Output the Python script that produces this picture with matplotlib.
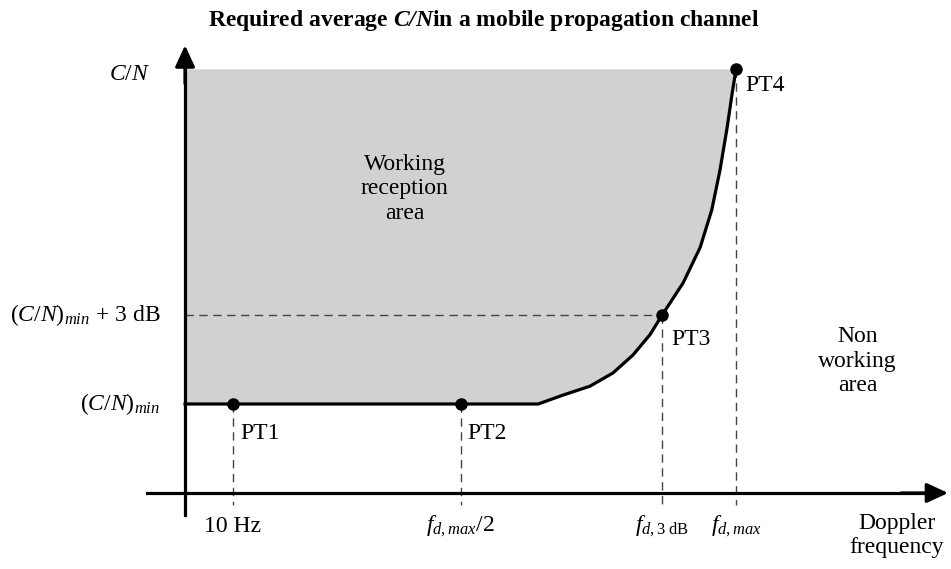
import matplotlib
matplotlib.use('Agg')
import matplotlib.pyplot as plt

# serif fonts for text and math
plt.rcParams['font.family'] = 'Liberation Serif'
plt.rcParams['mathtext.fontset'] = 'custom'
plt.rcParams['mathtext.rm'] = 'Liberation Serif'
plt.rcParams['mathtext.it'] = 'Liberation Serif:italic'
plt.rcParams['mathtext.bf'] = 'Liberation Serif:bold'
plt.rcParams['mathtext.bfit'] = 'Liberation Serif:bold:italic'

# Doppler frequency (fd,max = 1) and C/N ((C/N)min = 1) in schematic units
pt_x = [0.087, 0.5, 0.866, 1.0]
pt_y = [1.0, 1.0, 2.0, 4.76]
pt_labels = ['PT1', 'PT2', 'PT3', 'PT4']
freq_labels = ['10 Hz', r'$f_{d,max}/2$', r'$f_{d,3\ \mathrm{dB}}$', r'$f_{d,max}$']

# limit curve of the working area
curve_x = [0.0, 0.641, 0.686, 0.735, 0.777, 0.813, 0.844, 0.866, 0.904,
           0.935, 0.956, 0.971, 0.984, 0.993, 1.0]
curve_y = [1.0, 1.0, 1.10, 1.20, 1.35, 1.55, 1.78, 2.0, 2.36,
           2.76, 3.18, 3.63, 4.11, 4.49, 4.76]

cn_levels = [1.0, 2.0, 4.76]
cn_labels = [r'$(C/N)_{min}$', r'$(C/N)_{min}$ + 3 dB', r'$C/N$']

FS = 17

fig = plt.figure(figsize=(9.51, 5.69), dpi=100)
ax = fig.add_axes([0, 0, 1, 1])
ax.set_xlim(-0.3358, 1.3902)
ax.set_ylim(-0.854, 5.539)
ax.axis('off')

# gray working area
fill_x = curve_x + [0.0]
fill_y = curve_y + [cn_levels[-1]]
ax.fill(fill_x, fill_y, color='#d1d1d1', lw=0, zorder=1)

# limit curve
ax.plot(curve_x, curve_y, color='black', lw=2.3, zorder=3, solid_joinstyle='round')

# dashed guides
dash = dict(color='#444444', lw=1.0, dashes=(6, 4), zorder=2)
for x, y in zip(pt_x, pt_y):
    ax.plot([x, x], [y, -0.135], **dash)
ax.plot([0, pt_x[2]], [pt_y[2], pt_y[2]], **dash)

# axes with arrows
head = dict(arrowstyle='-|>,head_length=0.65,head_width=0.3', color='black',
            lw=2.3, mutation_scale=20, shrinkA=0, shrinkB=0)
ax.plot([0, 0], [-0.25, 4.8], color='black', lw=2.3, zorder=4)
ax.annotate('', xy=(0, 5.03), xytext=(0, 4.6), arrowprops=head, zorder=4)
ax.plot([-0.069, 1.34], [0, 0], color='black', lw=2.3, zorder=4)
ax.annotate('', xy=(1.385, 0), xytext=(1.30, 0), arrowprops=head, zorder=4)

# points
ax.plot(pt_x, pt_y, 'o', color='black', ms=8, zorder=5)

offsets = [(5, -21), (5, -21), (6.5, -18), (6.5, -11.5)]
for x, y, lab, off in zip(pt_x, pt_y, pt_labels, offsets):
    ax.annotate(lab, (x, y), xytext=off, textcoords='offset points',
                ha='left', va='center', fontsize=FS)

for x, lab in zip(pt_x, freq_labels):
    ax.text(x, -0.38, lab, ha='center', va='center', fontsize=FS)

label_pos = [(-0.045, 0), (-0.045, 0), (-0.064, -4)]
for y, lab, (lx, dy) in zip(cn_levels, cn_labels, label_pos):
    ax.annotate(lab, (lx, y), xytext=(0, dy), textcoords='offset points',
                ha='right', va='center', fontsize=FS)

ax.text(1.292, -0.22, 'Doppler\nfrequency', ha='center', va='top',
        fontsize=FS, linespacing=1.22)
ax.text(0.399, 3.42, 'Working\nreception\narea', ha='center', va='center',
        fontsize=FS, linespacing=1.22)
ax.text(1.221, 1.48, 'Non\nworking\narea', ha='center', va='center',
        fontsize=FS, linespacing=1.22)

fig.text(0.509, 0.954, r'Required average $\mathbfit{C/N}$in a mobile propagation channel',
         ha='center', va='baseline', fontsize=17, fontweight='bold')

fig.savefig('out.png', dpi=100)
